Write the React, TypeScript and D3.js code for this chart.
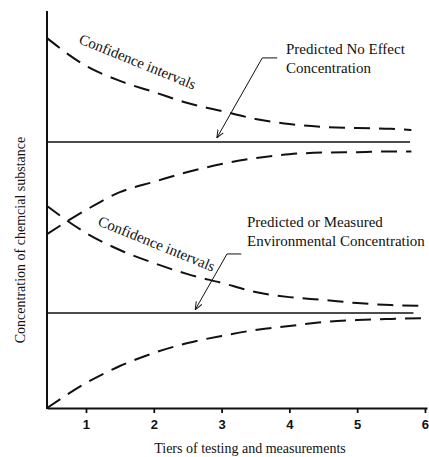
import { useEffect, useRef } from 'react';
import * as d3 from 'd3';

const tiersUpper = [0.425, 1, 1.5, 2, 2.5, 3, 3.5, 4, 4.5, 5, 5.5, 5.8];
const tiersLower = [0.425, 1, 1.5, 2, 2.5, 3, 3.5, 4, 4.5, 5, 5.5, 6.0];

// Predicted No Effect Concentration and its confidence band
const pnecLevel = 67.2;
const pnecEnd = 5.78;
const pnecUpperCI = [93.4, 86.4, 82.6, 79.8, 77.0, 75.0, 73.0, 71.7, 71.0, 70.7, 70.5, 70.2];
const pnecLowerCI = [43.9, 50.0, 54.5, 57.1, 59.6, 61.6, 63.1, 64.1, 64.5, 64.6, 64.8, 64.8];

// Predicted / Measured Environmental Concentration and its band
const pecLevel = 24.0;
const pecEnd = 5.83;
const pecUpperCI = [51.0, 44.2, 39.9, 36.6, 33.8, 31.6, 29.3, 28.0, 27.3, 26.5, 26.0, 25.8];
const pecLowerCI = [0, 6.3, 10.6, 13.9, 16.4, 18.2, 19.7, 20.7, 21.7, 22.2, 22.5, 22.7];

const tickValues = [1, 2, 3, 4, 5, 6];

const WIDTH = 429;
const HEIGHT = 457;
const SERIF = '"Liberation Serif", "Times New Roman", serif';

const App = () => {
  const svgRef = useRef<SVGSVGElement>(null);

  useEffect(() => {
    if (!svgRef.current) return;
    const svg = d3.select(svgRef.current);
    svg.selectAll('*').remove();

    const x = d3.scaleLinear().domain([0.425, 6.03]).range([47, 427]);
    const y = d3.scaleLinear().domain([0, 100]).range([408, 12]);

    svg.append('rect').attr('width', WIDTH).attr('height', HEIGHT).attr('fill', '#fff');

    const defs = svg.append('defs');
    defs.append('marker')
      .attr('id', 'arrow')
      .attr('viewBox', '0 0 10 10')
      .attr('refX', 10)
      .attr('refY', 5)
      .attr('markerWidth', 8)
      .attr('markerHeight', 8)
      .attr('markerUnits', 'userSpaceOnUse')
      .attr('orient', 'auto')
      .append('path')
      .attr('d', 'M0,1 L10,5 L0,9')
      .attr('fill', 'none')
      .attr('stroke', '#111')
      .attr('stroke-width', 1.2);

    const line = d3.line<[number, number]>()
      .x(d => x(d[0]))
      .y(d => y(d[1]))
      .curve(d3.curveMonotoneX);

    const dashed = (xs: number[], ys: number[]) => {
      svg.append('path')
        .attr('d', line(xs.map((t, i) => [t, ys[i]] as [number, number])) as string)
        .attr('fill', 'none')
        .attr('stroke', '#111')
        .attr('stroke-width', 2)
        .attr('stroke-dasharray', '16 9');
    };

    const level = (v: number, end: number) => {
      svg.append('line')
        .attr('x1', x(0.425)).attr('x2', x(end))
        .attr('y1', y(v)).attr('y2', y(v))
        .attr('stroke', '#111')
        .attr('stroke-width', 1.5);
    };

    level(pnecLevel, pnecEnd);
    dashed(tiersUpper, pnecUpperCI);
    dashed(tiersUpper, pnecLowerCI);

    level(pecLevel, pecEnd);
    dashed(tiersLower, pecUpperCI);
    dashed(tiersLower, pecLowerCI);

    // axes
    const xAxis = svg.append('g')
      .attr('transform', `translate(0, ${y(0)})`)
      .call(d3.axisBottom(x).tickValues(tickValues).tickSize(5).tickSizeOuter(0).tickPadding(7).tickFormat(d3.format('d')));
    xAxis.select('.domain').attr('stroke', '#111').attr('stroke-width', 2);
    xAxis.selectAll('.tick line').attr('stroke', '#111').attr('stroke-width', 1.8);
    xAxis.selectAll('.tick text')
      .attr('fill', '#111')
      .style('font-family', '"Liberation Sans", Arial, sans-serif')
      .style('font-size', '13px')
      .style('font-weight', 'bold');

    svg.append('line')
      .attr('x1', x(0.425)).attr('x2', x(0.425))
      .attr('y1', 11).attr('y2', y(0) + 1)
      .attr('stroke', '#111')
      .attr('stroke-width', 2);

    // axis titles
    svg.append('text')
      .attr('x', 250)
      .attr('y', 453)
      .attr('text-anchor', 'middle')
      .style('font-family', SERIF)
      .style('font-size', '14px')
      .attr('fill', '#111')
      .text('Tiers of testing and measurements');

    svg.append('text')
      .attr('transform', 'translate(25, 240) rotate(-90)')
      .attr('text-anchor', 'middle')
      .style('font-family', SERIF)
      .style('font-size', '14px')
      .attr('fill', '#111')
      .text('Concentration of chemcial substance');

    // curve labels
    const ciLabel = (px: number, py: number) => {
      svg.append('text')
        .attr('transform', `translate(${px}, ${py}) rotate(22)`)
        .style('font-family', SERIF)
        .style('font-size', '15px')
        .attr('fill', '#111')
        .text('Confidence intervals');
    };
    ciLabel(78, 43);
    ciLabel(97, 225);

    const note = (lines: string[], px: number, py: number) => {
      const t = svg.append('text')
        .style('font-family', SERIF)
        .style('font-size', '15px')
        .attr('fill', '#111');
      lines.forEach((s, i) => {
        t.append('tspan').attr('x', px).attr('y', py + i * 19).text(s);
      });
    };
    note(['Predicted No Effect', 'Concentration'], 286, 54);
    note(['Predicted or Measured', 'Environmental Concentration'], 247, 227);

    // leader arrows: [elbow end, elbow, tip] in data units
    const leader = (pts: [number, number][]) => {
      svg.append('path')
        .attr('d', d3.line<[number, number]>().x(d => x(d[0])).y(d => y(d[1]))(pts) as string)
        .attr('fill', 'none')
        .attr('stroke', '#111')
        .attr('stroke-width', 1)
        .attr('marker-end', 'url(#arrow)');
    };
    leader([[3.82, 88.4], [3.6, 88.4], [2.93, 68.2]]);
    leader([[3.29, 38.9], [3.08, 38.9], [2.61, 24.8]]);
  }, []);

  return (
    <svg
      ref={svgRef}
      width={WIDTH}
      height={HEIGHT}
      style={{ position: 'absolute', left: 0, top: 0 }}
    />
  );
};

export default App;
